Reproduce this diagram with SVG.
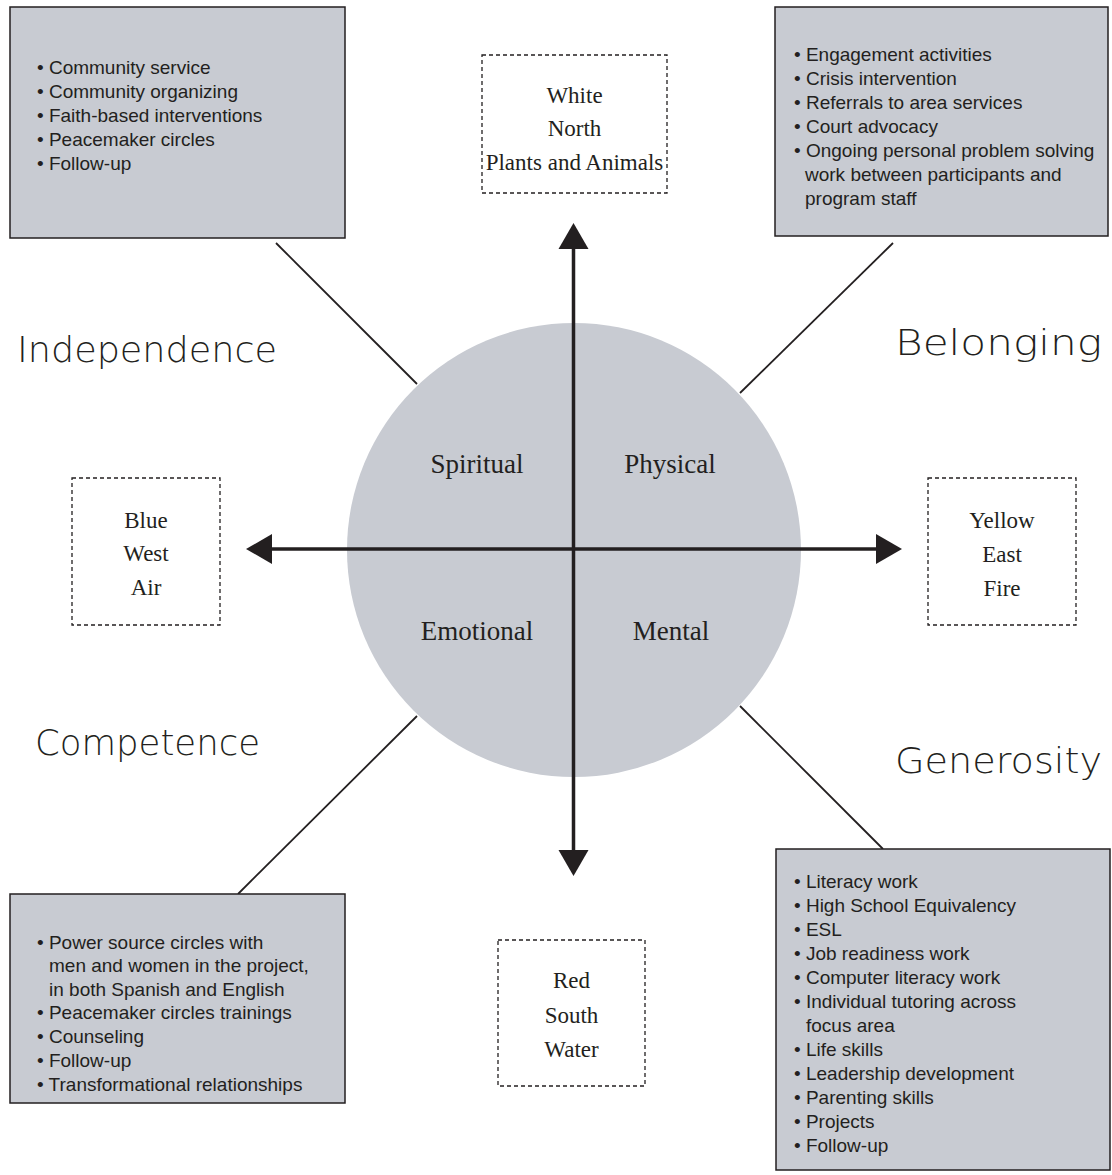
<svg xmlns="http://www.w3.org/2000/svg" width="1112" height="1175" viewBox="0 0 1112 1175">
<style>
.box{fill:#c8cbd2;stroke:#231f20;stroke-width:1.5}
.dash{fill:#fff;stroke:#231f20;stroke-width:1.3;stroke-dasharray:4 3}
.li{font-family:"Liberation Sans",Arial,sans-serif;font-size:19px;fill:#231f20}
.dir{font-family:"Liberation Serif","Times New Roman",serif;font-size:23px;fill:#231f20;text-anchor:middle}
.q{font-family:"Liberation Serif","Times New Roman",serif;font-size:27px;fill:#231f20;text-anchor:middle}
.hand{font-family:"DejaVu Sans",sans-serif;font-weight:200;font-size:36px;fill:#231f20}
.conn{stroke:#231f20;stroke-width:1.8;fill:none}
.axis{stroke:#231f20;stroke-width:3.5;fill:none}
.head{fill:#231f20}
</style>
<rect width="1112" height="1175" fill="#fff"/>

<g id="circle">
<circle cx="574" cy="550" r="227" fill="#c8cbd2"/>
<text class="q" x="477" y="473">Spiritual</text>
<text class="q" x="670" y="473">Physical</text>
<text class="q" x="477" y="640">Emotional</text>
<text class="q" x="671" y="640">Mental</text>
</g>

<g id="connectors">
<line class="conn" x1="276" y1="243" x2="417" y2="384"/>
<line class="conn" x1="893" y1="243" x2="740" y2="393"/>
<line class="conn" x1="238" y1="894" x2="417" y2="716"/>
<line class="conn" x1="740" y1="706" x2="883" y2="849"/>
<line class="axis" x1="573.5" y1="245" x2="573.5" y2="854"/>
<line class="axis" x1="268" y1="549" x2="880" y2="549"/>
<polygon class="head" points="573.5,223 588.5,249 558.5,249"/>
<polygon class="head" points="573.5,876 588.5,850 558.5,850"/>
<polygon class="head" points="246,549 272,534 272,564"/>
<polygon class="head" points="902,549 876,534 876,564"/>
</g>

<g id="box-independence">
<rect class="box" x="10" y="7" width="335" height="231"/>
<text class="li" x="37" y="74">• Community service</text>
<text class="li" x="37" y="98">• Community organizing</text>
<text class="li" x="37" y="122">• Faith-based interventions</text>
<text class="li" x="37" y="146">• Peacemaker circles</text>
<text class="li" x="37" y="170">• Follow-up</text>
</g>

<g id="box-belonging">
<rect class="box" x="775" y="7" width="333" height="229"/>
<text class="li" x="794" y="61">• Engagement activities</text>
<text class="li" x="794" y="85">• Crisis intervention</text>
<text class="li" x="794" y="109">• Referrals to area services</text>
<text class="li" x="794" y="133">• Court advocacy</text>
<text class="li" x="794" y="157">• Ongoing personal problem solving</text>
<text class="li" x="805" y="181">work between participants and</text>
<text class="li" x="805" y="205">program staff</text>
</g>

<g id="box-competence">
<rect class="box" x="10" y="894" width="335" height="209"/>
<text class="li" x="37" y="949">• Power source circles with</text>
<text class="li" x="49" y="972">men and women in the project,</text>
<text class="li" x="49" y="996">in both Spanish and English</text>
<text class="li" x="37" y="1019">• Peacemaker circles trainings</text>
<text class="li" x="37" y="1043">• Counseling</text>
<text class="li" x="37" y="1067">• Follow-up</text>
<text class="li" x="37" y="1091">• Transformational relationships</text>
</g>

<g id="box-generosity">
<rect class="box" x="776" y="849" width="334" height="321"/>
<text class="li" x="794" y="888">• Literacy work</text>
<text class="li" x="794" y="912">• High School Equivalency</text>
<text class="li" x="794" y="936">• ESL</text>
<text class="li" x="794" y="960">• Job readiness work</text>
<text class="li" x="794" y="984">• Computer literacy work</text>
<text class="li" x="794" y="1008">• Individual tutoring across</text>
<text class="li" x="806" y="1032">focus area</text>
<text class="li" x="794" y="1056">• Life skills</text>
<text class="li" x="794" y="1080">• Leadership development</text>
<text class="li" x="794" y="1104">• Parenting skills</text>
<text class="li" x="794" y="1128">• Projects</text>
<text class="li" x="794" y="1152">• Follow-up</text>
</g>

<g id="dir-north">
<rect class="dash" x="482" y="55" width="185" height="138"/>
<text class="dir" x="574.5" y="103">White</text>
<text class="dir" x="574.5" y="136">North</text>
<text class="dir" x="574.5" y="170">Plants and Animals</text>
</g>
<g id="dir-west">
<rect class="dash" x="72" y="478" width="148" height="147"/>
<text class="dir" x="146" y="528">Blue</text>
<text class="dir" x="146" y="561">West</text>
<text class="dir" x="146" y="595">Air</text>
</g>
<g id="dir-east">
<rect class="dash" x="928" y="478" width="148" height="147"/>
<text class="dir" x="1002" y="528">Yellow</text>
<text class="dir" x="1002" y="562">East</text>
<text class="dir" x="1002" y="596">Fire</text>
</g>
<g id="dir-south">
<rect class="dash" x="498" y="940" width="147" height="146"/>
<text class="dir" x="571.5" y="988">Red</text>
<text class="dir" x="571.5" y="1023">South</text>
<text class="dir" x="571.5" y="1057">Water</text>
</g>

<g id="label-independence"><text class="hand" x="17" y="362" textLength="260" lengthAdjust="spacingAndGlyphs">Independence</text></g>
<g id="label-belonging"><text class="hand" x="895" y="355" textLength="207" lengthAdjust="spacingAndGlyphs">Belonging</text></g>
<g id="label-competence"><text class="hand" x="35" y="755" textLength="225" lengthAdjust="spacingAndGlyphs">Competence</text></g>
<g id="label-generosity"><text class="hand" x="895" y="773" textLength="207" lengthAdjust="spacingAndGlyphs">Generosity</text></g>
</svg>
